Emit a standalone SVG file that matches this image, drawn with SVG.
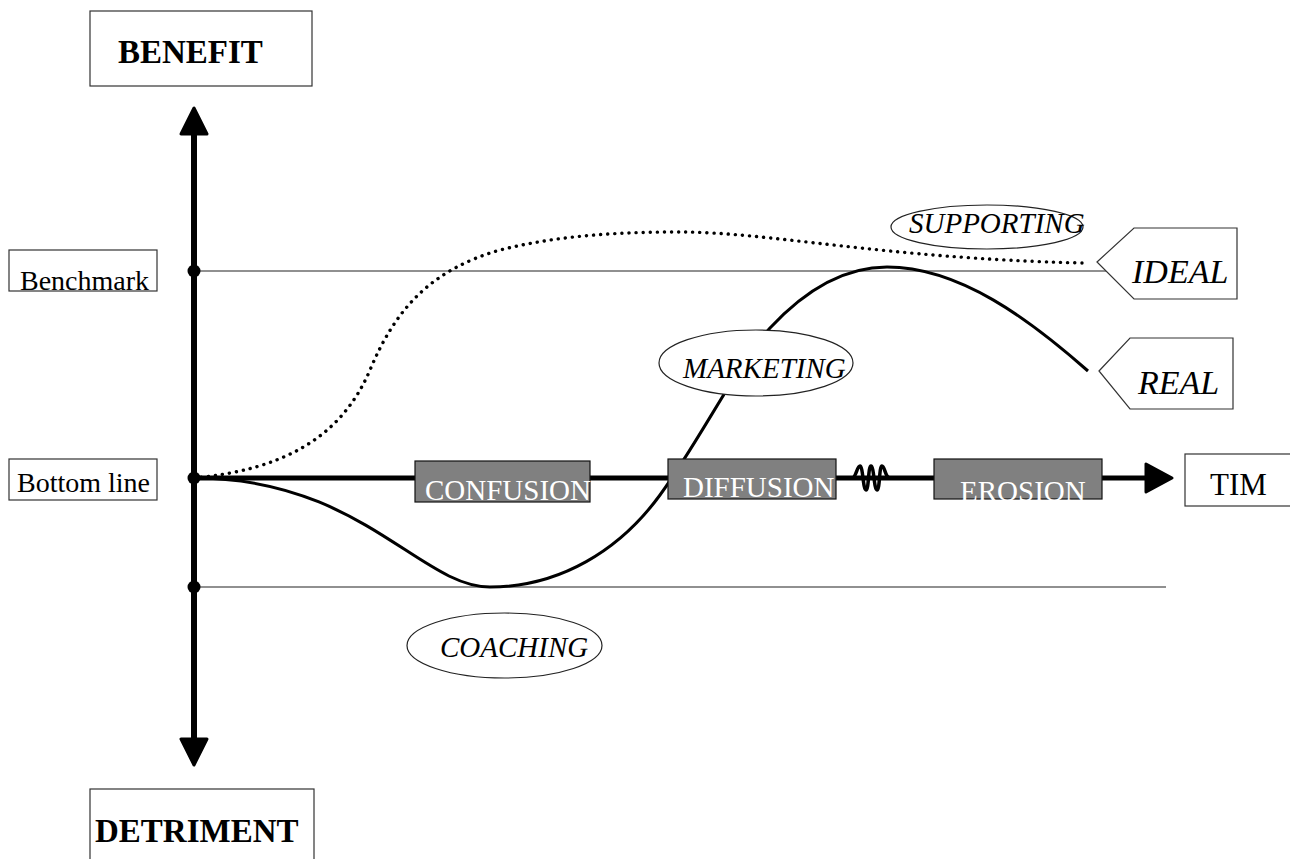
<svg xmlns="http://www.w3.org/2000/svg" width="1290" height="859" viewBox="0 0 1290 859">
  <style>
    text { font-family: "Liberation Serif", "Times New Roman", serif; fill: #000; }
    .title { font-size: 33px; font-weight: bold; }
    .lbl { font-size: 28px; }
    .ital { font-size: 29px; font-style: italic; }
    .tag { font-size: 34px; font-style: italic; }
    .phase { font-size: 29px; fill: #fff; }
    .box { fill: #fff; stroke: #333; stroke-width: 1.2; }
    .pbox { fill: #808080; stroke: #111; stroke-width: 1.2; }
    .oval { fill: #fff; stroke: #222; stroke-width: 1.2; }
    .guide { stroke: #222; stroke-width: 1.2; fill: none; }
    .axis { stroke: #000; stroke-width: 6; fill: none; }
    .haxis { stroke: #000; stroke-width: 5; fill: none; }
    .head { fill: #000; stroke: #000; stroke-width: 3; stroke-linejoin: round; }
    .real { stroke: #000; stroke-width: 3; fill: none; }
    .ideal { stroke: #000; stroke-width: 3.4; fill: none; stroke-dasharray: 0.1 7; stroke-linecap: round; }
  </style>

  <!-- guide lines and axes -->
  <g id="connectors">
    <line class="guide" x1="194" y1="271" x2="1107" y2="271"/>
    <line class="guide" x1="194" y1="587" x2="1166" y2="587"/>
    <line class="axis" x1="194" y1="125" x2="194" y2="748"/>
    <polygon class="head" points="194,108 181,134 207,134"/>
    <polygon class="head" points="194,765 181,739 207,739"/>
    <line class="haxis" x1="194" y1="478" x2="1150" y2="478"/>
    <polygon class="head" points="1172,478 1146,464 1146,492"/>
    <circle cx="194" cy="271" r="6.5" fill="#000"/>
    <circle cx="194" cy="478" r="6.5" fill="#000"/>
    <circle cx="194" cy="587" r="6.5" fill="#000"/>
    <!-- coil on time axis -->
    <path d="M852,478 C856,478 857,466 860,466 C863,466 863,490 866,490 C869,490 868,466 871,466 C874,466 874,490 877,490 C880,490 879,466 882,466 C885,466 885,478 890,478" fill="none" stroke="#000" stroke-width="3.5"/>
    <!-- ideal trajectory -->
    <path class="ideal" d="M194,478 C280,470 340,440 370,370 C395,310 430,270 500,250 C560,235 620,232 680,232 C770,232 880,258 1082,263"/>
    <!-- real trajectory -->
    <path class="real" d="M194,478 C360,478 420,587 490,587 C560,587 620,550 660,495 C700,440 740,360 770,328 C810,285 850,267 887,267 C960,267 1030,320 1088,371"/>
  </g>

  <g id="benefit">
    <rect class="box" x="90" y="11" width="222" height="75"/>
    <text class="title" x="118" y="63">BENEFIT</text>
  </g>
  <g id="detriment">
    <rect class="box" x="90" y="789" width="224" height="80"/>
    <text class="title" x="95" y="842">DETRIMENT</text>
  </g>
  <g id="benchmark">
    <rect class="box" x="9" y="250" width="148" height="41"/>
    <text class="lbl" x="20" y="290">Benchmark</text>
  </g>
  <g id="bottom-line">
    <rect class="box" x="9" y="459" width="148" height="41"/>
    <text class="lbl" x="17" y="492">Bottom line</text>
  </g>
  <g id="time">
    <rect class="box" x="1185" y="454" width="120" height="52"/>
    <text class="lbl" x="1210" y="495" style="font-size:31px">TIM</text>
  </g>

  <g id="confusion">
    <rect class="pbox" x="415" y="461" width="175" height="41"/>
    <text class="phase" x="425" y="500">CONFUSION</text>
  </g>
  <g id="diffusion">
    <rect class="pbox" x="668" y="459" width="168" height="40"/>
    <text class="phase" x="683" y="497">DIFFUSION</text>
  </g>
  <g id="erosion">
    <rect class="pbox" x="934" y="459" width="168" height="40"/>
    <text class="phase" x="960" y="501">EROSION</text>
  </g>

  <g id="supporting">
    <ellipse class="oval" cx="987" cy="227" rx="96" ry="22"/>
    <text class="ital" x="909" y="233">SUPPORTING</text>
  </g>
  <g id="marketing">
    <ellipse class="oval" cx="756" cy="363" rx="97" ry="33"/>
    <text class="ital" x="683" y="378">MARKETING</text>
  </g>
  <g id="coaching">
    <ellipse class="oval" cx="504.5" cy="645.5" rx="97.5" ry="32.5"/>
    <text class="ital" x="440" y="657">COACHING</text>
  </g>

  <g id="ideal">
    <polygon class="box" points="1097,262 1134,228 1237,228 1237,299 1134,299"/>
    <text class="tag" x="1132" y="283">IDEAL</text>
  </g>
  <g id="real">
    <polygon class="box" points="1099,371 1130,338 1233,338 1233,409 1130,409"/>
    <text class="tag" x="1138" y="394">REAL</text>
  </g>
</svg>
